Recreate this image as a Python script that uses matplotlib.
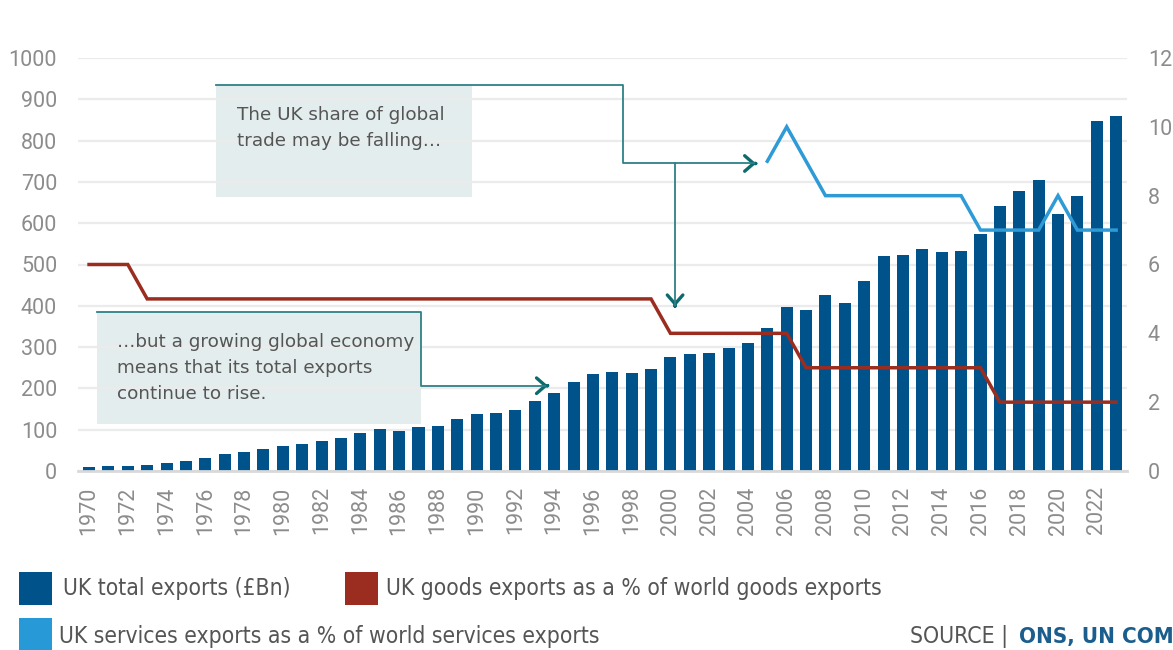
import matplotlib
matplotlib.use('Agg')
import matplotlib.pyplot as plt
from matplotlib import font_manager as fm
from matplotlib.patches import Rectangle
from matplotlib.text import Annotation

# ---------------- data ----------------
years = list(range(1970, 2024))
total_exports = [10, 11, 11, 14, 20, 24, 32, 41, 46, 53,
                 60, 66, 72, 80, 91, 102, 98, 107, 110, 125,
                 138, 140, 148, 170, 188, 215, 235, 240, 238, 246,
                 275, 284, 286, 298, 311, 346, 398, 389, 427, 406,
                 461, 520, 523, 537, 530, 532, 574, 641, 677, 705,
                 622, 665, 847, 860]
goods_share = [6, 6, 6, 5, 5, 5, 5, 5, 5, 5,
               5, 5, 5, 5, 5, 5, 5, 5, 5, 5,
               5, 5, 5, 5, 5, 5, 5, 5, 5, 5,
               4, 4, 4, 4, 4, 4, 4, 3, 3, 3,
               3, 3, 3, 3, 3, 3, 3, 2, 2, 2,
               2, 2, 2, 2]
services_years = list(range(2005, 2024))
services_share = [9, 10, 9, 8, 8, 8, 8, 8, 8, 8, 8, 7, 7, 7, 7, 8, 7, 7, 7]
xtick_years = list(range(1970, 2023, 2))
xtick_labels = [str(y) for y in xtick_years]
left_ticks = [0, 100, 200, 300, 400, 500, 600, 700, 800, 900, 1000]
right_ticks = [0, 2, 4, 6, 8, 10, 12]
legend_labels = ["UK total exports (£Bn)",
                 "UK goods exports as a % of world goods exports",
                 "UK services exports as a % of world services exports"]
note_top = "The UK share of global\ntrade may be falling…"
note_bottom = "…but a growing global economy\nmeans that its total exports\ncontinue to rise."
source_label = "SOURCE | "
source_value = "ONS, UN COMTRADE"

# ---------------- styles ----------------
BAR = '#00538A'
RED = '#9B2D20'
LBLUE = '#2E9AD6'
TEAL_LINE = '#2E8186'
TEAL_HEAD = '#0E6B6D'
BOXFILL = '#E4EDED'
TICKCOL = '#8C8C8C'
TXT = '#555555'

names = {f.name for f in fm.fontManager.ttflist}
tick_font = 'Roboto' if 'Roboto' in names else 'DejaVu Sans'
if 'Liberation Sans Narrow' in names:
    leg_font = dict(family='Liberation Sans Narrow')
else:
    leg_font = dict(family='DejaVu Sans', stretch='condensed')

W, H = 1173, 650
fig = plt.figure(figsize=(W / 100, H / 100), dpi=100)


def fx(px):
    return px / W


def fy(py):
    return 1 - py / H


ax = fig.add_axes([fx(78), fy(471), fx(1127) - fx(78), fy(58) - fy(471)])
ax.bar(years, total_exports, width=0.62, color=BAR, zorder=2)
ax.set_xlim(1969.43, 2023.56)
ax.set_ylim(0, 1000)
ax.set_yticks(left_ticks)
ax.set_xticks(xtick_years)
ax.set_xticklabels(xtick_labels, rotation=90)
ax.grid(axis='y', color='#EBEBEB', lw=1.6, zorder=0.5)
ax.set_axisbelow(True)
for s in ['top', 'left', 'right']:
    ax.spines[s].set_visible(False)
ax.spines['bottom'].set_color('#D9D9D9')
ax.spines['bottom'].set_linewidth(2)
ax.tick_params(axis='both', length=0, colors=TICKCOL, labelsize=15.5)
ax.tick_params(axis='y', pad=15)
ax.tick_params(axis='x', pad=11)
for lab in ax.get_xticklabels() + ax.get_yticklabels():
    lab.set_family(tick_font)

ax2 = ax.twinx()
ax2.set_ylim(0, 12)
ax2.set_yticks(right_ticks)
ax2.plot(years, goods_share, color=RED, lw=2.5, solid_joinstyle='miter', zorder=3)
ax2.plot(services_years, services_share, color=LBLUE, lw=2.5, solid_joinstyle='miter', zorder=3)
for s in ax2.spines.values():
    s.set_visible(False)
ax2.tick_params(axis='y', length=0, colors=TICKCOL, labelsize=15.5, pad=15)
for lab in ax2.get_yticklabels():
    lab.set_family(tick_font)


# ---------------- annotations ----------------
def arrow_head(axis, tip, direction):
    dx, dy = direction
    axis.annotate('', xy=tip, xytext=(-dx * 0.5, -dy * 0.5), textcoords='offset points',
                  arrowprops=dict(arrowstyle='->,head_length=0.32,head_width=0.28',
                                  color=TEAL_HEAD, lw=2.4, shrinkA=0, shrinkB=0,
                                  mutation_scale=20), annotation_clip=False)


# top box
ax.add_patch(Rectangle((1976.55, 663.4), 1989.76 - 1976.55, 934.6 - 663.4,
                       facecolor=BOXFILL, edgecolor='none', zorder=0.3))
ax.text(1977.64, 884, note_top, ha='left', va='top', fontsize=13.2, color=TXT,
        family='DejaVu Sans', linespacing=1.58, zorder=4)
ax.plot([1976.55, 1997.55, 1997.55, 2004.3], [934.6, 934.6, 744.6, 744.6],
        color=TEAL_LINE, lw=1.3, zorder=4)
ax.plot([2000.24, 2000.24], [744.6, 402], color=TEAL_LINE, lw=1.3, zorder=4)
arrow_head(ax, (2004.42, 744.6), (1, 0))
arrow_head(ax, (2000.24, 398.5), (0, -1))

# bottom box
ax.add_patch(Rectangle((1970.41, 113.8), 1987.13 - 1970.41, 385 - 113.8,
                       facecolor=BOXFILL, edgecolor='none', zorder=0.3))
ax.text(1971.44, 335, note_bottom, ha='left', va='top', fontsize=13.2, color=TXT,
        family='DejaVu Sans', linespacing=1.58, zorder=4)
ax.plot([1970.41, 1987.13, 1987.13, 1993.55], [385, 385, 206.5, 206.5],
        color=TEAL_LINE, lw=1.3, zorder=4)
arrow_head(ax, (1993.68, 206.5), (1, 0))

# ---------------- legend ----------------
leg_colors = [BAR, RED, '#2799D6']
leg_rects = [(19, 572, 33, 33), (345, 572, 33, 33), (19, 618, 33, 33)]
leg_text = [(63, 589), (386, 589), (59, 636)]
for col, (x, y, w, h), (tx, ty), lab in zip(leg_colors, leg_rects, leg_text, legend_labels):
    fig.patches.append(Rectangle((fx(x), fy(y + h)), w / W, h / H, transform=fig.transFigure,
                                 facecolor=col, edgecolor='none'))
    fig.text(fx(tx), fy(ty), lab, ha='left', va='center', fontsize=16.4, color=TXT, **leg_font)

src = fig.text(fx(910), fy(637), source_label, ha='left', va='center', fontsize=16.5,
               color=TXT, **leg_font)
src_ann = Annotation(source_value, xy=(1, 0.5), xycoords=src, xytext=(3, 0),
                     textcoords='offset points', ha='left', va='center', fontsize=16,
                     color='#1B5E8E', fontweight='semibold', **leg_font)
fig.add_artist(src_ann)

fig.savefig('out.png', dpi=100)
